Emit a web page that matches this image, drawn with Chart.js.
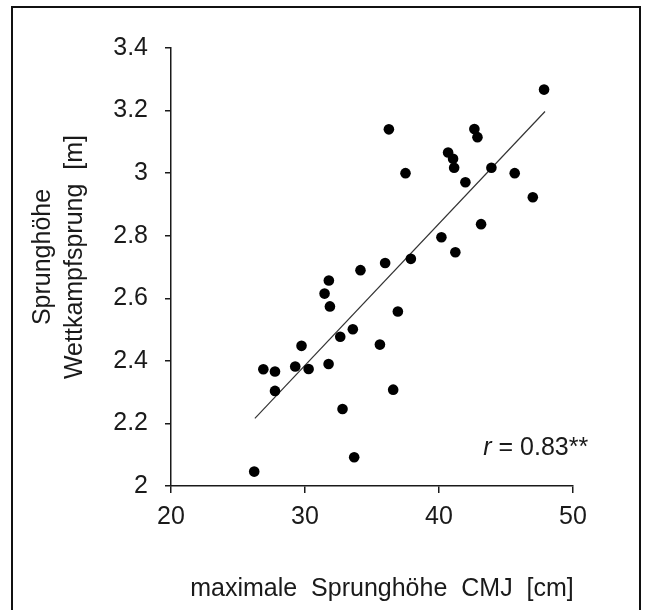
<!DOCTYPE html>
<html>
<head>
<meta charset="utf-8">
<script src="https://cdn.jsdelivr.net/npm/chart.js@4.4.1/dist/chart.umd.min.js"></script>
<style>
    html, body { margin: 0; padding: 0; background: #fff; }
    canvas { display: block; }
</style>
</head>
<body>
<canvas id="scatterChart" width="645" height="610"></canvas>
<script>
// max. CMJ jump height (cm) vs. jump height in competition (m)
const cmjHeight = [47.84, 36.26, 42.64, 42.87, 40.68, 41.05, 41.13, 37.50, 43.91, 45.65, 41.97, 47.00,
    43.14, 40.18, 41.22, 37.90, 35.98, 34.14, 31.78, 31.46, 31.86, 36.93, 33.57, 32.63,
    35.59, 29.74, 26.89, 27.76, 29.27, 30.27, 31.76, 27.76, 36.58, 32.80, 33.67, 26.21];
const compHeight = [3.267, 3.140, 3.141, 3.115, 3.066, 3.046, 3.017, 3.000, 3.017, 3.000, 2.971, 2.923,
    2.837, 2.795, 2.747, 2.726, 2.713, 2.690, 2.657, 2.615, 2.574, 2.558, 2.501, 2.477,
    2.452, 2.448, 2.373, 2.366, 2.382, 2.374, 2.390, 2.304, 2.308, 2.246, 2.092, 2.046];

// regression line end points
const fitX = [26.26, 47.91];
const fitY = [2.216, 3.197];

const xTicks = [20, 30, 40, 50];
const yTicks = [2, 2.2, 2.4, 2.6, 2.8, 3, 3.2, 3.4];

const xTitle = 'maximale Sprunghöhe CMJ [cm]';
const yTitle = ['Sprunghöhe', 'Wettkampfsprung [m]'];
const corrLabel = ['r', ' = 0.83**'];
const corrAt = [43.3, 2.1]; // data units (x, y baseline)

const FONT = '"Liberation Sans", Arial, sans-serif';
const INK = '#1a1a1a';

const points = cmjHeight.map((x, i) => ({ x: x, y: compHeight[i] }));
const fitLine = fitX.map((x, i) => ({ x: x, y: fitY[i] }));

// frame, axis titles and r label
const extraText = {
    id: 'extraText',
    afterDraw(chart) {
        const ctx = chart.ctx;
        const xs = chart.scales.x;
        const ys = chart.scales.y;
        ctx.save();

        ctx.strokeStyle = '#111';
        ctx.lineWidth = 2;
        ctx.strokeRect(12, 7, 628, 640);

        ctx.fillStyle = INK;
        ctx.wordSpacing = '7px';
        ctx.font = '25px ' + FONT;
        ctx.textAlign = 'center';
        ctx.textBaseline = 'middle';
        ctx.fillText(xTitle, 382, 589);

        ctx.save();
        ctx.translate(43, 257);
        ctx.rotate(-Math.PI / 2);
        ctx.fillText(yTitle[0], 0, 0);
        ctx.fillText(yTitle[1], 0, 32);
        ctx.restore();

        const px = xs.getPixelForValue(corrAt[0]);
        const py = ys.getPixelForValue(corrAt[1]);
        ctx.textAlign = 'left';
        ctx.textBaseline = 'alphabetic';
        ctx.wordSpacing = '1.5px';
        ctx.font = 'italic 25px ' + FONT;
        ctx.fillText(corrLabel[0], px, py);
        const w = ctx.measureText(corrLabel[0]).width;
        ctx.font = '25px ' + FONT;
        ctx.fillText(corrLabel[1], px + w, py);

        ctx.restore();
    }
};

const ctx = document.getElementById('scatterChart').getContext('2d');

new Chart(ctx, {
    type: 'scatter',
    data: {
        datasets: [
            {
                label: 'Athleten',
                data: points,
                backgroundColor: '#000',
                borderWidth: 0,
                pointRadius: 5.3,
                pointHoverRadius: 5.3,
                order: 1
            },
            {
                type: 'line',
                label: 'Regression',
                data: fitLine,
                borderColor: '#333',
                borderWidth: 1.2,
                pointRadius: 0,
                fill: false,
                order: 2
            }
        ]
    },
    options: {
        responsive: false,
        animation: false,
        devicePixelRatio: 1,
        layout: { padding: { top: 48, right: 72, left: 0, bottom: 0 } },
        plugins: {
            legend: { display: false },
            tooltip: { enabled: false }
        },
        scales: {
            x: {
                type: 'linear',
                min: 20,
                max: 50,
                afterBuildTicks: s => { s.ticks = xTicks.map(v => ({ value: v })); },
                afterFit: s => { s.height = 124; },
                grid: { drawOnChartArea: false, drawTicks: true, tickLength: 7, color: INK, lineWidth: 1.5 },
                border: { display: true, color: INK, width: 1.5 },
                ticks: { color: INK, font: { size: 25, family: FONT }, padding: 9, maxRotation: 0 }
            },
            y: {
                type: 'linear',
                min: 2,
                max: 3.4,
                afterBuildTicks: s => { s.ticks = yTicks.map(v => ({ value: v })); },
                afterFit: s => { s.width = 171; },
                grid: { drawOnChartArea: false, drawTicks: true, tickLength: 6, color: INK, lineWidth: 1.5 },
                border: { display: true, color: INK, width: 1.5 },
                ticks: {
                    color: INK,
                    font: { size: 25, family: FONT },
                    padding: 17,
                    callback: v => String(Math.round(v * 10) / 10)
                }
            }
        }
    },
    plugins: [extraText]
});
</script>
</body>
</html>
